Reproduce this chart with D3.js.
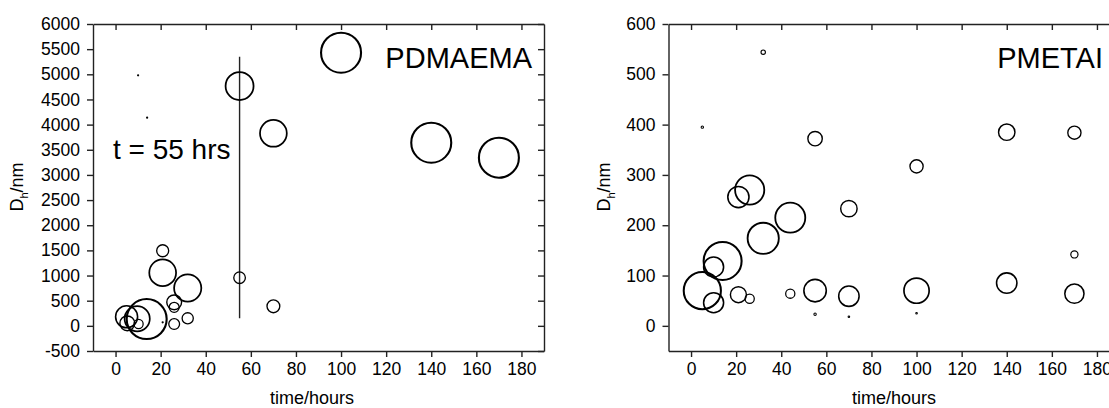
<!DOCTYPE html>
<html>
<head>
  <meta charset="utf-8">
  <script src="https://d3js.org/d3.v7.min.js"></script>
  <style>
    body { margin: 0; background: #fff; }
    text { font-family: "Liberation Sans", Arial, sans-serif; fill: #000; }
    .axis path, .axis line { stroke: #222; stroke-width: 1.4; }
  </style>
</head>
<body>
<script>

  // PDMAEMA panel (time in hours, Dh in nm, size = relative bubble size)
  var pdmaemaTime = [4.9, 5.2, 9.6, 10.2, 13.8, 20.9, 20.9, 20.9, 26, 26, 26, 32, 32, 55, 55, 70, 70, 100, 140, 170, 10, 14];
  var pdmaemaDh   = [180, 50, 140, 36, 135, 70, 1493, 1056, 467, 368, 36, 752, 149, 957, 4767, 388, 3827, 5429, 3640, 3342, 4980, 4137];
  var pdmaemaSize = [55, 37, 63, 23, 100, 3, 30, 67, 37, 25, 27, 68, 28, 29, 70, 32, 67, 100, 100, 100, 3, 3];

  // vertical bar drawn at t = 55 hrs
  var barTime = 55;
  var barRange = [150, 5350];

  // PMETAI panel
  var pmetaiTime = [5, 5, 10, 10, 14, 21, 21, 26, 26, 32, 32, 44, 44, 55, 55, 55, 70, 70, 70, 100, 100, 100, 140, 140, 170, 170, 170];
  var pmetaiDh   = [70, 395, 117, 46, 129, 256, 62, 270, 54, 174, 544, 215, 64, 372, 70, 23, 233, 59, 18, 317, 70, 25, 385, 85, 384, 142, 64];
  var pmetaiSize = [93, 6, 50, 50, 95, 53, 40, 73, 23, 78, 11, 75, 23, 36, 56, 6, 41, 51, 4, 33, 63, 4, 41, 51, 33, 18, 48];

  var xTicks = [0, 20, 40, 60, 80, 100, 120, 140, 160, 180];
  var yTicksA = d3.range(-500, 6001, 500);
  var yTicksB = [0, 100, 200, 300, 400, 500, 600];

  var width = 1109, height = 408;

  var svg = d3.select("body").append("svg")
      .attr("width", width)
      .attr("height", height);

  // bubble radius scale, shared by both panels
  var rScale = d3.scaleLinear().domain([0, 100]).range([0, 20]);

  function drawPanel(opt) {
    var x = d3.scaleLinear().domain([-10, 190]).range([opt.left, opt.left + 451]);
    var y = d3.scaleLinear().domain(opt.yDomain).range([351, 24]);

    var g = svg.append("g");

    // bottom + left axes with labels (ticks outward)
    g.append("g").attr("class", "axis")
      .attr("transform", "translate(0,351)")
      .call(d3.axisBottom(x).tickValues(xTicks).tickSize(6).tickSizeOuter(0).tickPadding(6))
      .selectAll("text").style("font-size", "17.5px");

    g.append("g").attr("class", "axis")
      .attr("transform", "translate(" + opt.left + ",0)")
      .call(d3.axisLeft(y).tickValues(opt.yTicks).tickSize(6).tickSizeOuter(0).tickPadding(7)
        .tickFormat(function(d){ return String(d); }))
      .selectAll("text").style("font-size", "17.5px");

    // top + right axes, ticks inward, no labels
    g.append("g").attr("class", "axis")
      .attr("transform", "translate(0,24)")
      .call(d3.axisTop(x).tickValues(xTicks).tickSize(-6).tickSizeOuter(0).tickFormat(""));

    g.append("g").attr("class", "axis")
      .attr("transform", "translate(" + x(190) + ",0)")
      .call(d3.axisRight(y).tickValues(opt.yTicks).tickSize(-6).tickSizeOuter(0).tickFormat(""));

    var pts = opt.time.map(function(t, i){
      return { t: t, dh: opt.dh[i], s: opt.size[i] };
    });

    if (opt.bar) {
      g.append("line")
        .attr("x1", x(opt.bar.t)).attr("x2", x(opt.bar.t))
        .attr("y1", y(opt.bar.range[0])).attr("y2", y(opt.bar.range[1]))
        .style("stroke", "#222")
        .style("stroke-width", 1.4);
    }

    g.selectAll("circle.pt")
      .data(pts)
      .enter().append("circle")
      .attr("class", "pt")
      .attr("cx", function(d){ return x(d.t); })
      .attr("cy", function(d){ return y(d.dh); })
      .attr("r", function(d){ return rScale(d.s); })
      .style("fill", "none")
      .style("stroke", "#000")
      .style("stroke-width", function(d){ return 1 + rScale(d.s) * 0.055; });

    // axis titles
    g.append("text")
      .attr("x", opt.xTitleX)
      .attr("y", 404)
      .attr("text-anchor", "middle")
      .style("font-size", "18px")
      .text("time/hours");

    var yt = g.append("text")
      .attr("transform", "translate(" + opt.yTitleX + ",187) rotate(-90)")
      .attr("text-anchor", "middle")
      .style("font-size", "18px");
    yt.append("tspan").text("D");
    yt.append("tspan").attr("dy", 5).style("font-size", "11px").text("h");
    yt.append("tspan").attr("dy", -5).text("/nm");

    // panel name
    g.append("text")
      .attr("x", opt.nameX)
      .attr("y", 68)
      .attr("text-anchor", "end")
      .style("font-size", "29px")
      .text(opt.name);

    return { x: x, y: y, g: g };
  }

  var left = drawPanel({
    left: 93, yDomain: [-500, 6000], yTicks: yTicksA,
    time: pdmaemaTime, dh: pdmaemaDh, size: pdmaemaSize,
    bar: { t: barTime, range: barRange },
    xTitleX: 312, yTitleX: 23, name: "PDMAEMA", nameX: 532
  });

  left.g.append("text")
    .attr("x", 113)
    .attr("y", 159)
    .style("font-size", "28px")
    .text("t = 55 hrs");

  drawPanel({
    left: 668.5, yDomain: [-50, 600], yTicks: yTicksB,
    time: pmetaiTime, dh: pmetaiDh, size: pmetaiSize,
    bar: null,
    xTitleX: 894, yTitleX: 610, name: "PMETAI", nameX: 1103
  });

</script>
</body>
</html>
